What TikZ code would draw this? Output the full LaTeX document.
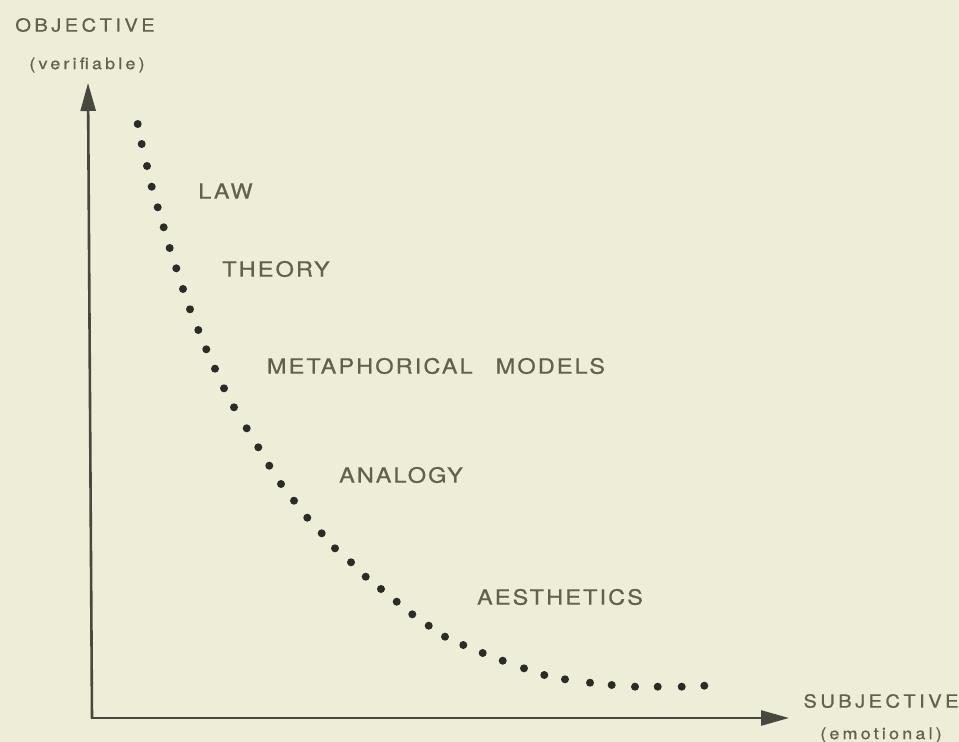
\documentclass[tikz,border=0pt]{standalone}
\usepackage{fontspec}
\usetikzlibrary{arrows.meta}
\newfontfamily\lablfont[FakeStretch=1.12,LetterSpace=10,FakeBold=0.6]{TeX Gyre Heros}
\newfontfamily\axisfont[FakeStretch=1.12,LetterSpace=19,FakeBold=0.6]{TeX Gyre Heros}
\newfontfamily\notefont[FakeStretch=1.12,LetterSpace=20,FakeBold=0.5]{TeX Gyre Heros}
\definecolor{paper}{RGB}{237,237,216}
\definecolor{ink}{RGB}{100,96,76}
\definecolor{dotc}{RGB}{44,44,38}
\definecolor{axisc}{RGB}{72,72,62}
\begin{document}
\begin{tikzpicture}[x=1pt,y=-1pt,
  lbl/.style={text=ink,inner sep=0pt,font=\lablfont\fontsize{21}{21}\selectfont},
  axtitle/.style={text=ink,inner sep=0pt,font=\axisfont\fontsize{18}{18}\selectfont},
  axnote/.style={text=ink,inner sep=0pt,font=\notefont\fontsize{16}{16}\selectfont},
  axisline/.style={draw=axisc,line width=2.6pt,-{Triangle[length=28pt,width=15pt]}}]
  % page and paper
  \fill[paper] (0,0) rectangle (959,742);
  \useasboundingbox (0,0) rectangle (959,742);

  % axes
  \coordinate (origin) at (92,718);
  \coordinate (ytip) at (88,83);
  \coordinate (xtip) at (789,718);
  \draw[axisline] (origin) -- (ytip);
  \draw[axisline] ([xshift=-1.3pt]origin) -- (xtip);

  % axis titles
  \node[axtitle] (objective) at (85,25) {OBJECTIVE};
  \node[axnote] (verifiable) at (87,65) {(verifiable)};
  \node[axtitle] (subjective) at (881,701) {SUBJECTIVE};
  \node[axnote] (emotional) at (881,735) {(emotional)};

  % dotted curve
  \foreach \px/\py in {
    137.7/124, 141.7/144, 147/166, 151.7/186.7, 157.7/207.3, 163.7/227.3,
    169.7/248, 176.3/268.3, 183/289, 190/309.3, 198.3/330, 206.3/349.3,
    215/368.7, 224/388.3, 234/407.3, 246.7/428.3, 258.3/447.3, 269.3/465.7,
    281/484, 294/500.7, 307.3/517.7, 321.7/533.3, 335/548.3, 351/562.3,
    365.7/576.7, 381/589, 396.7/601.7, 412.3/614.3, 428.7/625.7, 445/636.7,
    463.3/645, 482.7/653, 502.7/660.7, 524/668.3, 544.3/675, 565/679.3,
    590/682.7, 611.7/685, 635/686.7, 657.7/686.7, 681.7/686.7, 704.3/685.7}
    \fill[dotc] (\px,\py) circle (4pt);

  % region labels
  \node[lbl] (law) at (225.5,191) {LAW};
  \node[lbl] (theory) at (276,269) {THEORY};
  \node[lbl] (metaphor) at (436,366) {METAPHORICAL\hspace{23pt}MODELS};
  \node[lbl] (analogy) at (401,475) {ANALOGY};
  \node[lbl] (aesthetics) at (560,597) {AESTHETICS};
\end{tikzpicture}
\end{document}
